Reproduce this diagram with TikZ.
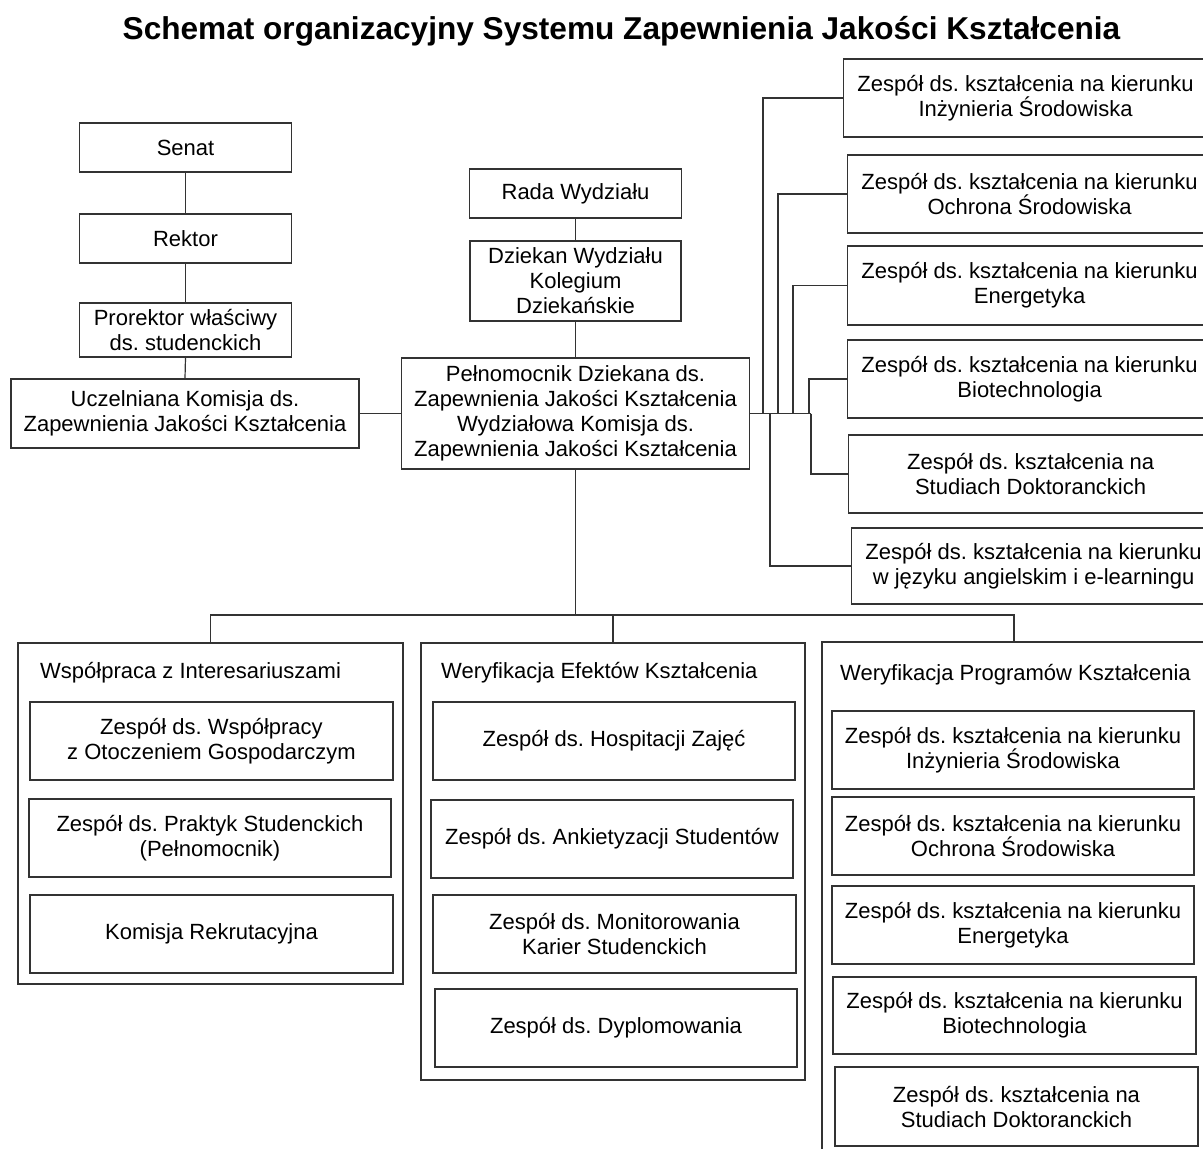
\documentclass[tikz,border=0pt]{standalone}
\usepackage{fontspec}
\setmainfont{Liberation Sans}
\frenchspacing
\tikzset{
  ln/.style={line width=1.2pt, draw=black!80},
  bx/.style={ln, draw, align=center, inner sep=0pt, minimum width=#1, font=\fontsize{22}{25}\selectfont\frenchspacing},
  bx/.default=364pt,
  grp/.style={ln, draw, inner sep=0pt},
  gtitle/.style={anchor=base west, inner sep=0pt, font=\fontsize{22}{25}\selectfont},
}
\begin{document}
\begin{tikzpicture}[x=1pt, y=-1pt]
\path[use as bounding box] (0,0) rectangle (1203,1149);
\clip (0,0) rectangle (1203,1149);

% title
\node[anchor=base, inner sep=0pt, font=\fontsize{31.6}{36}\selectfont\bfseries] (title) at (621.5,39)
  {Schemat organizacyjny Systemu Zapewnienia Jakości Kształcenia};

% left column
\node[bx=212pt, minimum height=49pt] (senat) at (185.5,147.5) {Senat};
\node[bx=212pt, minimum height=49pt] (rektor) at (185.5,238.5) {Rektor};
\node[bx=212pt, minimum height=54pt] (prorektor) at (185.5,330) {Prorektor właściwy\\ds. studenckich};
\node[bx=348pt, minimum height=69pt] (uczel) at (185,413.5) {Uczelniana Komisja ds.\\Zapewnienia Jakości Kształcenia};

% centre column
\node[bx=212pt, minimum height=49pt] (rada) at (575.5,193.5) {Rada Wydziału};
\node[bx=211pt, minimum height=80pt] (dziekan) at (575.5,281) {Dziekan Wydziału\\Kolegium\\Dziekańskie};
\node[bx=348pt, minimum height=111pt] (pel) at (575.5,413.5) {Pełnomocnik Dziekana ds.\\Zapewnienia Jakości Kształcenia\\Wydziałowa Komisja ds.\\Zapewnienia Jakości Kształcenia};

\draw[ln] (senat.south) -- (rektor.north);
\draw[ln] (rektor.south) -- (prorektor.north);
\draw[ln] (prorektor.south) -- (uczel.north);
\draw[ln] (rada.south) -- (dziekan.north);
\draw[ln] (dziekan.south) -- (pel.north);
\draw[ln] (uczel.east) -- (pel.west);

% right column
\node[bx, minimum height=78pt, anchor=west] (r1) at (843,98) {Zespół ds. kształcenia na kierunku\\Inżynieria Środowiska};
\node[bx, minimum height=78pt, anchor=west] (r2) at (847,194) {Zespół ds. kształcenia na kierunku\\Ochrona Środowiska};
\node[bx, minimum height=79pt, anchor=west] (r3) at (847,285.5) {Zespół ds. kształcenia na kierunku\\Energetyka};
\node[bx, minimum height=78pt, anchor=west] (r4) at (847,379) {Zespół ds. kształcenia na kierunku\\Biotechnologia};
\node[bx, minimum height=78pt, anchor=west] (r5) at (848,474) {Zespół ds. kształcenia na\\Studiach Doktoranckich};
\node[bx, minimum height=76pt, anchor=west] (r6) at (851,566) {Zespół ds. kształcenia na kierunku\\w języku angielskim i e-learningu};

\coordinate (j1) at (763,413.5);
\coordinate (j2) at (778,413.5);
\coordinate (j3) at (793,413.5);
\coordinate (j4) at (809,413.5);
\coordinate (j5) at (811,413.5);
\coordinate (j6) at (770,413.5);
\draw[ln] (pel.east) -- (j5);
\draw[ln] (j1) |- (r1.west);
\draw[ln] (j2) |- (r2.west);
\draw[ln] (j3) |- (r3.west);
\draw[ln] (j4) |- (r4.west);
\draw[ln] (j5) |- (r5.west);
\draw[ln] (j6) |- (r6.west);

% groups
\node[grp, minimum width=385pt, minimum height=341pt] (g1) at (210.5,813.5) {};
\node[grp, minimum width=384pt, minimum height=437pt] (g2) at (613,861.5) {};
\node[grp, minimum width=384pt, minimum height=518pt] (g3) at (1014,901) {};

\coordinate (bus) at (575.5,615);
\draw[ln] (pel.south) -- (bus);
\draw[ln] (bus) -| (g1.north);
\draw[ln] (bus) -| (g3.north);
\draw[ln] (bus -| g2.north) -- (g2.north);

\node[gtitle] (t1) at (40,678) {Współpraca z Interesariuszami};
\node[gtitle] (t2) at (441,678) {Weryfikacja Efektów Kształcenia};
\node[gtitle] (t3) at (840,680) {Weryfikacja Programów Kształcenia};

\node[bx=363pt, minimum height=78pt] (a1) at (211.5,741) {Zespół ds. Współpracy\\z Otoczeniem Gospodarczym};
\node[bx=362pt, minimum height=78pt] (a2) at (210,838) {Zespół ds. Praktyk Studenckich\\(Pełnomocnik)};
\node[bx=363pt, minimum height=78pt] (a3) at (211.5,934) {Komisja Rekrutacyjna};

\node[bx=362pt, minimum height=78pt] (b1) at (614,741) {Zespół ds. Hospitacji Zajęć};
\node[bx=362pt, minimum height=78pt] (b2) at (612,839) {Zespół ds. Ankietyzacji Studentów};
\node[bx=363pt, minimum height=78pt] (b3) at (614.5,934) {Zespół ds. Monitorowania\\Karier Studenckich};
\node[bx=362pt, minimum height=78pt] (b4) at (616,1028) {Zespół ds. Dyplomowania};

\node[bx=362pt, minimum height=78pt] (c1) at (1013,750) {Zespół ds. kształcenia na kierunku\\Inżynieria Środowiska};
\node[bx=362pt, minimum height=78pt] (c2) at (1013,836) {Zespół ds. kształcenia na kierunku\\Ochrona Środowiska};
\node[bx=362pt, minimum height=78pt] (c3) at (1013,925) {Zespół ds. kształcenia na kierunku\\Energetyka};
\node[bx=363pt, minimum height=77pt] (c4) at (1014.5,1015.5) {Zespół ds. kształcenia na kierunku\\Biotechnologia};
\node[bx=363pt, minimum height=79pt] (c5) at (1016.5,1106.5) {Zespół ds. kształcenia na\\Studiach Doktoranckich};
\end{tikzpicture}
\end{document}
